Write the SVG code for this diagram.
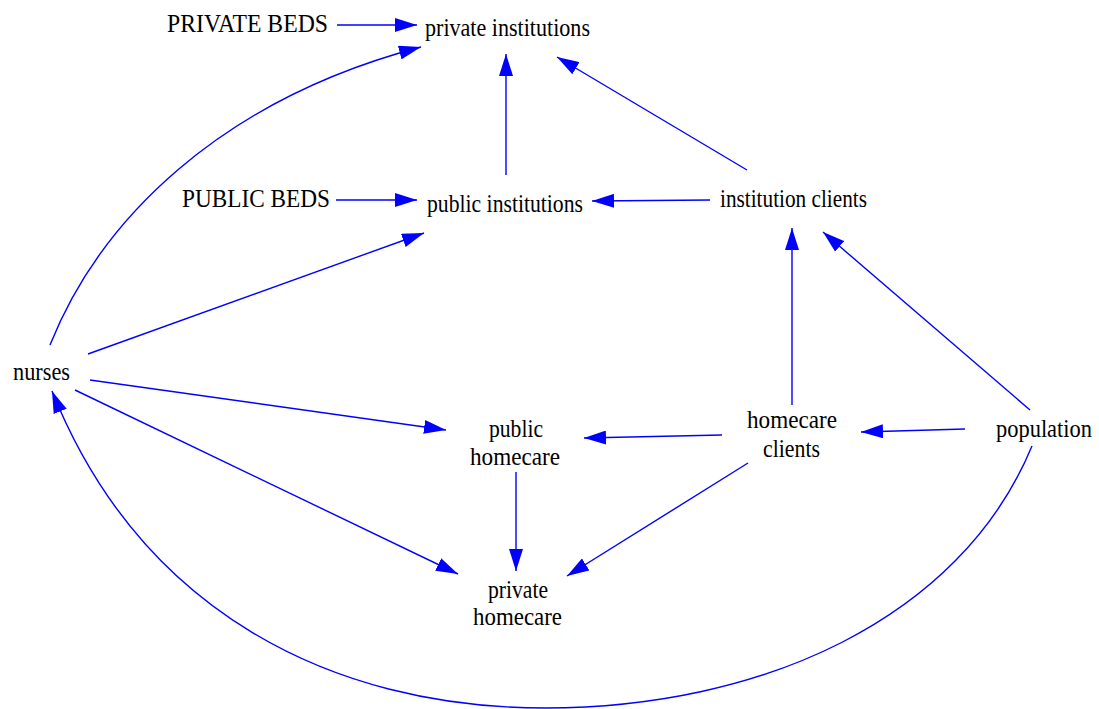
<svg xmlns="http://www.w3.org/2000/svg" width="1099" height="709" viewBox="0 0 1099 709">
  <style>
    .lbl { font-family: "Liberation Serif", "Times New Roman", serif; font-size: 24.5px; fill: #000; }
    .edge { fill: none; stroke: #0000ff; stroke-width: 1.4; marker-end: url(#arrow); }
  </style>
  <defs>
    <marker id="arrow" markerUnits="userSpaceOnUse" markerWidth="23" markerHeight="14" refX="22" refY="7" orient="auto">
      <path d="M0,0 L22,7 L0,14 z" fill="#0000ff"/>
    </marker>
  </defs>
  <rect width="1099" height="709" fill="#ffffff"/>

  <g id="connectors">
    <path class="edge" d="M337,25 L417,25"/>
    <path class="edge" d="M336,200 L417,200"/>
    <path class="edge" d="M506,175 L506,54"/>
    <path class="edge" d="M747,170 L557,57"/>
    <path class="edge" d="M710,200 L592,201"/>
    <path class="edge" d="M50,345 C100,220 220,100 421,47"/>
    <path class="edge" d="M88,354 L424,233"/>
    <path class="edge" d="M90,380 L446,430"/>
    <path class="edge" d="M75,390 L458,574"/>
    <path class="edge" d="M792,405 L792,228"/>
    <path class="edge" d="M1030,410 L823,232"/>
    <path class="edge" d="M965,429 L861,432"/>
    <path class="edge" d="M722,435 L584,438"/>
    <path class="edge" d="M748,463 L567,576"/>
    <path class="edge" d="M516,472 L516,571"/>
    <path class="edge" d="M1032,446 C960,620 760,708 545,708 C330,708 140,610 52,391"/>
  </g>

  <g id="private-beds"><text class="lbl" x="167" y="31.5" textLength="161" lengthAdjust="spacingAndGlyphs">PRIVATE BEDS</text></g>
  <g id="private-institutions"><text class="lbl" x="425" y="36" textLength="165" lengthAdjust="spacingAndGlyphs">private institutions</text></g>
  <g id="public-beds"><text class="lbl" x="182" y="206.5" textLength="148" lengthAdjust="spacingAndGlyphs">PUBLIC BEDS</text></g>
  <g id="public-institutions"><text class="lbl" x="427" y="211.5" textLength="156" lengthAdjust="spacingAndGlyphs">public institutions</text></g>
  <g id="institution-clients"><text class="lbl" x="720" y="206.5" textLength="147" lengthAdjust="spacingAndGlyphs">institution clients</text></g>
  <g id="nurses"><text class="lbl" x="13" y="380" textLength="57" lengthAdjust="spacingAndGlyphs">nurses</text></g>
  <g id="public-homecare">
    <text class="lbl" x="489" y="437" textLength="54" lengthAdjust="spacingAndGlyphs">public</text>
    <text class="lbl" x="470" y="465" textLength="90" lengthAdjust="spacingAndGlyphs">homecare</text>
  </g>
  <g id="homecare-clients">
    <text class="lbl" x="747" y="428" textLength="90" lengthAdjust="spacingAndGlyphs">homecare</text>
    <text class="lbl" x="763" y="456.5" textLength="57" lengthAdjust="spacingAndGlyphs">clients</text>
  </g>
  <g id="population"><text class="lbl" x="996" y="436.5" textLength="96" lengthAdjust="spacingAndGlyphs">population</text></g>
  <g id="private-homecare">
    <text class="lbl" x="488" y="598" textLength="60" lengthAdjust="spacingAndGlyphs">private</text>
    <text class="lbl" x="473" y="625" textLength="89" lengthAdjust="spacingAndGlyphs">homecare</text>
  </g>
</svg>
